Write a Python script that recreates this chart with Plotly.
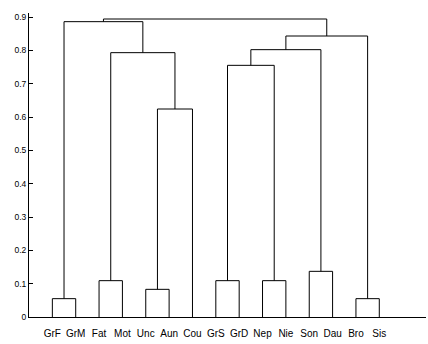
import plotly.graph_objects as go

leaves = ["GrF", "GrM", "Fat", "Mot", "Unc", "Aun", "Cou",
          "GrS", "GrD", "Nep", "Nie", "Son", "Dau", "Bro", "Sis"]
# merges: (left cluster id, right cluster id, height); new ids start at len(leaves)
merge_left = [0, 13, 4, 2, 7, 9, 11, 17, 19, 18, 23, 25, 15, 27]
merge_right = [1, 14, 5, 3, 8, 10, 12, 6, 20, 22, 21, 16, 24, 26]
merge_height = [0.055, 0.055, 0.083, 0.109, 0.109, 0.109, 0.137,
                0.624, 0.755, 0.793, 0.802, 0.843, 0.886, 0.894]
y_ticks = [0, 0.1, 0.2, 0.3, 0.4, 0.5, 0.6, 0.7, 0.8, 0.9]

n = len(leaves)
pos = {i: (i + 1, 0.0) for i in range(n)}
xs, ys = [], []
for k, (a, b, h) in enumerate(zip(merge_left, merge_right, merge_height)):
    xa, ya = pos[a]
    xb, yb = pos[b]
    xs += [xa, xa, xb, xb, None]
    ys += [ya, h, h, yb, None]
    pos[n + k] = ((xa + xb) / 2, h)

fig = go.Figure(go.Scatter(x=xs, y=ys, mode="lines",
                           line=dict(color="black", width=1),
                           hoverinfo="skip", showlegend=False))

font = "Liberation Sans, Arial, Helvetica, sans-serif"
fig.update_layout(
    width=428, height=344,
    margin=dict(l=29, r=2, t=13, b=27),
    paper_bgcolor="white", plot_bgcolor="white",
    xaxis=dict(range=[0, 17], tickvals=list(range(1, n + 1)), ticktext=leaves,
               showgrid=False, zeroline=False, showline=True, linecolor="black",
               linewidth=1, ticks="", automargin=False, ticklabelstandoff=7,
               tickfont=dict(family=font, size=10, color="black")),
    yaxis=dict(range=[0, 0.912], tickvals=y_ticks,
               ticktext=["0" if v == 0 else f"{v:.1f}" for v in y_ticks],
               showgrid=False, zeroline=False, showline=True, linecolor="black",
               linewidth=1, ticks="inside", ticklen=4, tickcolor="black",
               automargin=False,
               tickfont=dict(family=font, size=8.5, color="black")),
)
fig.write_html("out.html", config={"displayModeBar": False},
               post_script="document.body.style.margin='0';document.body.style.overflow='hidden';")
